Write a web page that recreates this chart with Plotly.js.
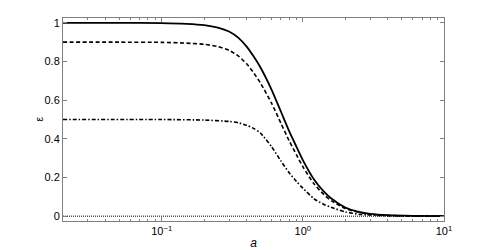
<!DOCTYPE html>
<html><head><meta charset="utf-8">
<script src="https://cdn.plot.ly/plotly-3.0.1.min.js"></script>
<style>html,body{margin:0;padding:0;background:#fff}#c{width:491px;height:250px}</style>
</head><body><div id="c"></div>
<script>
const aSolid = [0.02,0.05,0.1,0.15,0.2,0.25,0.3,0.35,0.4,0.45,0.5,0.6,0.7,0.8,0.9,1.0,1.2,1.4,1.6,2.0,2.5,3,4,6,10];
const epsSolid = [1.0,1.0,0.999,0.995,0.988,0.975,0.955,0.922,0.877,0.824,0.77,0.655,0.54,0.44,0.36,0.29,0.19,0.13,0.09,0.045,0.022,0.012,0.005,0.0015,0.0003];
const aDashed = [0.02,0.05,0.1,0.15,0.2,0.25,0.3,0.35,0.4,0.45,0.5,0.6,0.7,0.8,0.9,1.0,1.2,1.4,1.6,2.0,2.5,3,4,6,10];
const epsDashed = [0.9,0.9,0.899,0.895,0.889,0.877,0.858,0.828,0.788,0.74,0.69,0.585,0.48,0.39,0.318,0.256,0.167,0.114,0.079,0.04,0.019,0.01,0.004,0.0012,0.0002];
const aDashDot = [0.02,0.1,0.2,0.3,0.35,0.4,0.45,0.5,0.6,0.7,0.8,0.9,1.0,1.2,1.4,1.6,2.0,2.5,3,4,6,10];
const epsDashDot = [0.5,0.5,0.497,0.49,0.483,0.47,0.453,0.43,0.36,0.285,0.225,0.18,0.145,0.09,0.062,0.045,0.022,0.01,0.006,0.002,0.0005,0.0001];
const aDotted = [0.02,10];
const epsDotted = [0,0];
const yTicks = [0,0.2,0.4,0.6,0.8,1];
const yTickText = ['0','0.2','0.4','0.6','0.8','1'];
const xTicks = [0.1,1,10];
const xTickText = ['10<sup>−1</sup>','10<sup>0</sup>','10<sup>1</sup>'];
const yLabel = 'ε';
const xLabel = '<i>a</i>';

const base = {type:'scatter',mode:'lines',hoverinfo:'skip',showlegend:false};
const data = [
  Object.assign({},base,{x:aDotted,y:epsDotted,line:{color:'#000',width:1,dash:'1px,1px'}}),
  Object.assign({},base,{x:aDashDot,y:epsDashDot,line:{color:'#000',width:1.6,dash:'4px,2px,1.5px,2px',shape:'spline',smoothing:0.6}}),
  Object.assign({},base,{x:aDashed,y:epsDashed,line:{color:'#000',width:1.6,dash:'4px,2.5px',shape:'spline',smoothing:0.6}}),
  Object.assign({},base,{x:aSolid,y:epsSolid,line:{color:'#000',width:1.8,shape:'spline',smoothing:0.6}})
];
const font = {family:'Liberation Sans, Arial, sans-serif',size:11,color:'#000'};
const layout = {
  width:491,height:250,
  margin:{l:63,r:47,t:18,b:29,pad:0},
  paper_bgcolor:'#fff',plot_bgcolor:'#fff',
  font:font,
  xaxis:{type:'log',range:[Math.log10(0.02),1],tickvals:xTicks,ticktext:xTickText,
    ticks:'inside',ticklen:4,tickcolor:'#808080',showline:true,linecolor:'#808080',linewidth:1,mirror:'ticks',
    showgrid:false,zeroline:false,tickfont:font,
    minor:{tickvals:[0.02,0.03,0.04,0.05,0.06,0.07,0.08,0.09,0.2,0.3,0.4,0.5,0.6,0.7,0.8,0.9,2,3,4,5,6,7,8,9],ticks:'inside',ticklen:2,tickcolor:'#808080',showgrid:false},
    title:{text:xLabel,font:{family:'Liberation Sans, Arial, sans-serif',size:12,color:'#000'},standoff:2}},
  yaxis:{range:[-0.025,1.025],tickvals:yTicks,ticktext:yTickText,
    ticks:'inside',ticklen:4,tickcolor:'#808080',showline:true,linecolor:'#808080',linewidth:1,mirror:'ticks',
    showgrid:false,zeroline:false,tickfont:font},
  annotations:[{text:yLabel,xref:'paper',yref:'paper',x:-24/382,y:0.5,xanchor:'center',yanchor:'middle',
    textangle:-90,showarrow:false,font:{family:'Liberation Sans, Arial, sans-serif',size:10,color:'#000'}}]
};
Plotly.newPlot('c',data,layout,{staticPlot:true,displayModeBar:false});
</script></body></html>
